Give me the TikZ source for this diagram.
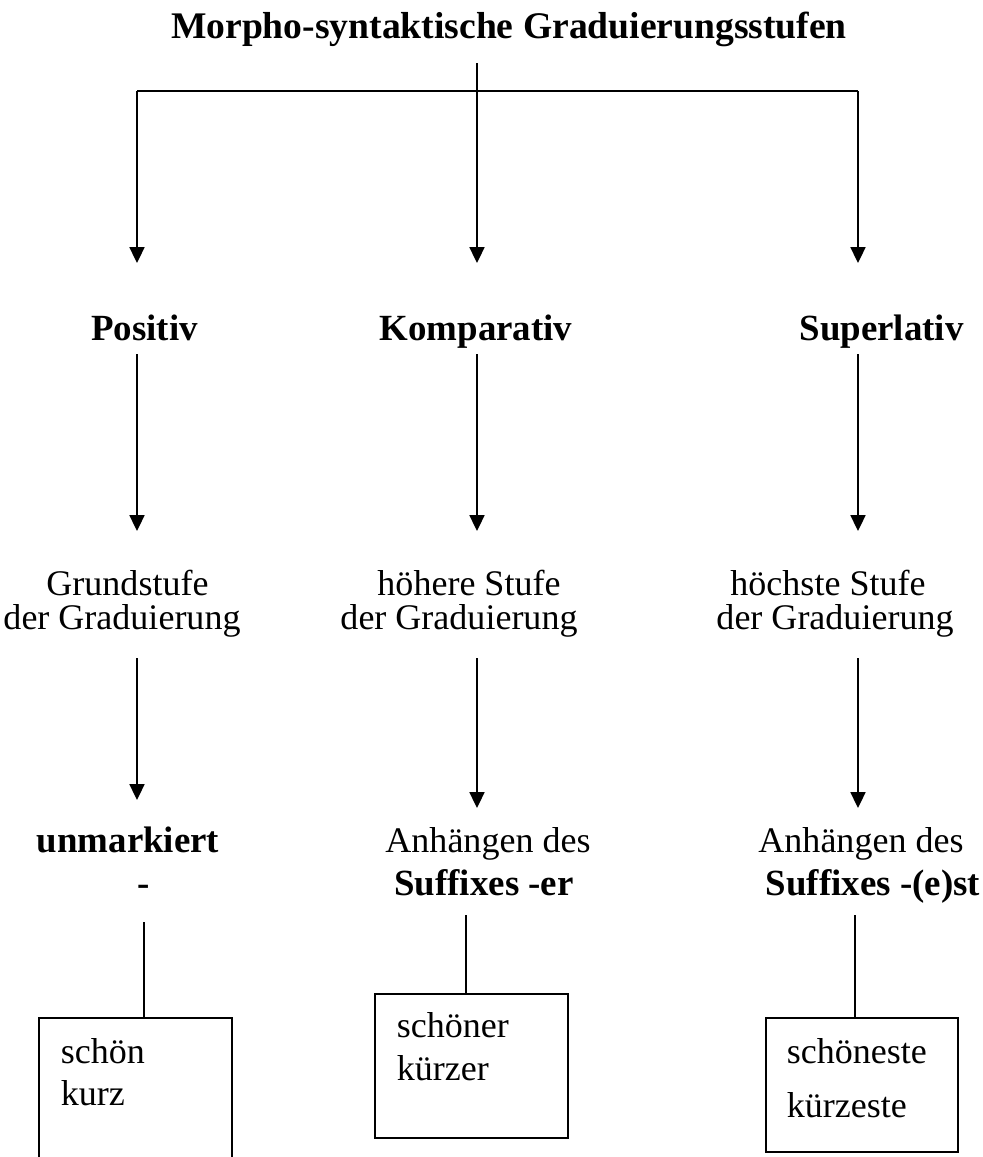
\documentclass[tikz,border=0pt]{standalone}
\usepackage{fontspec}
\setmainfont{Liberation Serif}
\usetikzlibrary{arrows.meta,positioning}

\begin{document}
\begin{tikzpicture}[x=0.02cm, y=-0.02cm, line width=1pt, >={Triangle[length=9pt,width=8.5pt]},
        every node/.style={inner sep=0pt, anchor=base, font=\fontsize{20.5}{24}\selectfont},
        hd/.style={font=\fontsize{21}{25}\selectfont\bfseries},
        box/.style={draw, line width=1pt, minimum width=3.86cm, anchor=north west}]
        \useasboundingbox (0,0) rectangle (983,1157);
        % title and fork
        \node[hd, font=\fontsize{21.4}{25}\selectfont\bfseries] (title) at (509,38) {Morpho-syntaktische Graduierungsstufen};
        \coordinate (stem) at (477,63);
        \coordinate (fork) at (477,91);
        \coordinate (forkL) at (137,91);
        \coordinate (forkR) at (858,91);
        \draw (stem) -- (fork);
        \draw (forkL) -- (forkR);
        % degrees
        \node[hd] (pos) at (144.5,340) {Positiv};
        \node[hd] (komp) at (476,340) {Komparativ};
        \node[hd] (sup) at (881.5,340) {Superlativ};
        % meaning
        \node (grundA) at (127.5,595) {Grundstufe};
        \node (grundB) at (122,629) {der Graduierung};
        \node (hoeherA) at (469,595) {höhere Stufe};
        \node (hoeherB) at (459,629) {der Graduierung};
        \node (hoechstA) at (828,595) {höchste Stufe};
        \node (hoechstB) at (835,629) {der Graduierung};
        % marking
        \node[hd] (unm) at (128,852) {unmarkiert};
        \node[hd] (dash) at (144,895) {-};
        \node (anhA) at (488,852) {Anhängen des};
        \node[hd] (sfxA) at (484,895) {Suffixes -er};
        \node (anhB) at (861,852) {Anhängen des};
        \node[hd] (sfxB) at (873,895) {Suffixes -(e)st};
        % example boxes
        \node[box, minimum height=3.3cm] (box1) at (38,1017) {};
        \node[box, minimum height=2.88cm] (box2) at (374,993) {};
        \node[box, minimum height=2.68cm, minimum width=3.84cm] (box3) at (765,1017) {};
        \node[anchor=base west] (exA) at (60,1063) {schön};
        \node[anchor=base west] (exB) at (60,1105) {kurz};
        \node[anchor=base west] (exC) at (396,1037) {schöner};
        \node[anchor=base west] (exD) at (396,1080) {kürzer};
        \node[anchor=base west] (exE) at (786,1063) {schöneste};
        \node[anchor=base west] (exF) at (786,1117) {kürzeste};
        % arrows
        \foreach \c/\n in {forkL/pos, fork/komp, forkR/sup} {
            \draw[->, shorten >=1.54cm] (\c) -- (\c |- \n.base);
        }
        \foreach \c/\a/\b in {forkL/pos/grundA, fork/komp/hoeherA, forkR/sup/hoechstA} {
            \draw[->, shorten <=0.28cm, shorten >=1.28cm] (\a.base -| \c) -- (\b.base -| \c);
        }
        \foreach \c/\a/\b/\s in {forkL/grundB/unm/1.04, fork/hoeherB/anhA/0.88, forkR/hoechstB/anhB/0.88} {
            \draw[->, shorten <=0.58cm, shorten >=\s cm] (\a.base -| \c) -- (\b.base -| \c);
        }
        % lines to boxes
        \coordinate (t1) at (144,922);
        \coordinate (t2) at (466,915);
        \coordinate (t3) at (855,915);
        \foreach \i in {1,2,3} {
            \draw (t\i) -- (t\i |- box\i.north);
        }
    \end{tikzpicture}
\end{document}
